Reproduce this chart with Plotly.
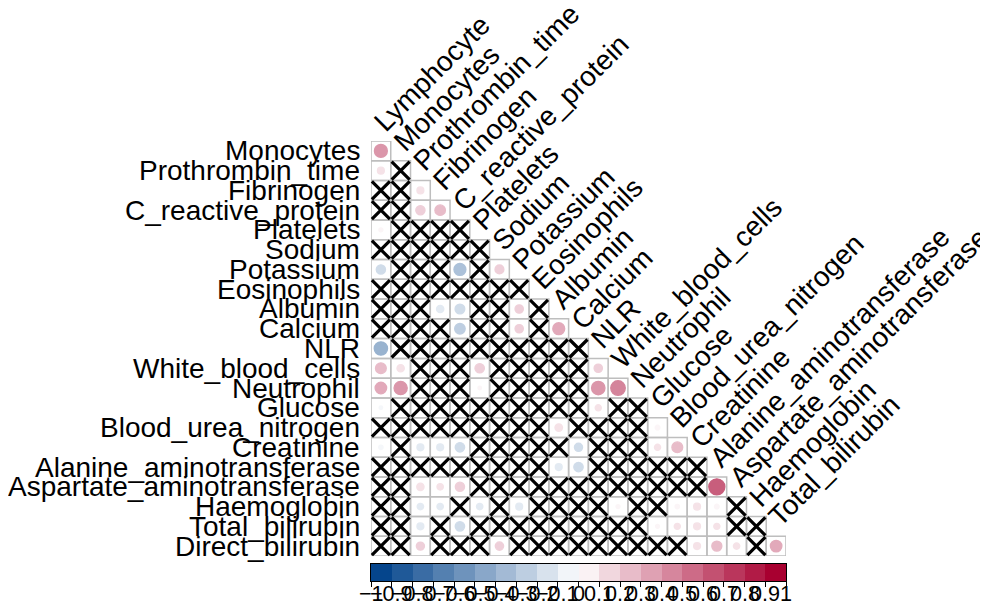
import plotly.graph_objects as go

# ---------------- data ----------------
variables = ["Lymphocyte", "Monocytes", "Prothrombin_time", "Fibrinogen",
             "C_reactive_protein", "Platelets", "Sodium", "Potassium",
             "Eosinophils", "Albumin", "Calcium", "NLR", "White_blood_cells",
             "Neutrophil", "Glucose", "Blood_urea_nitrogen", "Creatinine",
             "Alanine_aminotransferase", "Aspartate_aminotransferase",
             "Haemoglobin", "Total_bilirubin", "Direct_bilirubin"]

N = None  # non-significant (crossed) cell
corr_rows = [
    [0.53],
    [0.15, N],
    [N, N, 0.15],
    [N, N, 0.27, 0.35],
    [0.05, N, N, N, N],
    [N, N, N, N, N, N],
    [-0.27, N, N, N, -0.45, N, 0.25],
    [N, N, N, N, N, N, N, N],
    [N, N, N, -0.17, -0.3, N, N, 0.22, N],
    [N, N, N, N, -0.35, N, N, 0.22, N, 0.45],
    [-0.56, N, N, N, N, N, N, N, N, N, N],
    [0.37, 0.17, N, N, N, 0.28, N, N, N, N, N, 0.22],
    [0.42, 0.55, N, N, N, 0.04, N, N, N, N, N, 0.57, 0.67],
    [-0.04, N, N, N, N, N, N, N, N, N, N, 0.12, N, N],
    [N, N, N, N, N, N, N, N, N, 0.18, N, N, N, N, 0.07],
    [-0.06, N, -0.15, -0.15, -0.28, N, N, N, N, N, -0.21, N, N, N, 0.12, 0.37],
    [N, N, N, N, N, N, N, N, N, -0.15, -0.28, N, N, N, N, N, N],
    [N, N, 0.17, 0.13, 0.27, N, N, N, N, N, N, N, N, N, N, N, N, 0.82],
    [N, N, -0.13, -0.13, N, -0.13, N, -0.15, N, N, N, N, 0.05, N, N, 0.06, 0.15, 0.07, N],
    [N, N, -0.15, N, -0.28, N, N, N, N, N, N, N, N, N, 0.05, 0.12, 0.15, 0.12, N, N],
    [N, N, 0.21, N, N, N, 0.22, N, N, N, N, N, N, N, N, N, 0.15, 0.32, 0.13, N, 0.42],
]

colorbar_ticks = [round(-1 + 0.1 * k, 1) for k in range(21)]
blue_end = (5, 69, 140)
red_end = (168, 0, 48)

# ---------------- layout geometry ----------------
W, H = 988, 610
OFF = 8  # page body margin
L_PX, R_PX = 371, 786
T_PX, MAIN_B, CB_T, CB_B = 141, 556, 564, 581
n = len(variables) - 1
cell = (R_PX - L_PX) / n
FONT = "Liberation Sans, Arial, sans-serif"
LABEL_SIZE = 28


def ramp(k, nbins=20):
    t = k / (nbins - 1)
    if t <= 0.5:
        f = (0.5 - t) / 0.5
        c = [255 * (1 - f) + b * f for b in blue_end]
    else:
        f = (t - 0.5) / 0.5
        c = [255 * (1 - f) + r * f for r in red_end]
    return "rgb(%d,%d,%d)" % tuple(round(v) for v in c)


colors = [ramp(k) for k in range(20)]
cscale = []
for k, c in enumerate(colors):
    cscale.append([k / 20, c])
    cscale.append([(k + 1) / 20, c])

fig = go.Figure()

# grid
shapes = []
for i in range(1, n + 1):
    for j in range(1, i + 1):
        shapes.append(dict(type="rect", xref="x", yref="y",
                           x0=j - 0.5, x1=j + 0.5, y0=i - 0.5, y1=i + 0.5,
                           line=dict(color="#BEBEBE", width=1.5),
                           fillcolor="rgba(0,0,0,0)", layer="below"))

cx, cy, cv, cs = [], [], [], []
xx, xy = [], []
for i, row in enumerate(corr_rows, start=1):
    for j, v in enumerate(row, start=1):
        if v is None:
            xx.append(j)
            xy.append(i)
        else:
            cx.append(j)
            cy.append(i)
            cv.append(v)
            cs.append(0.9 * abs(v) ** 0.5 * cell)

fig.add_trace(go.Scatter(x=cx, y=cy, mode="markers", hoverinfo="skip",
                         marker=dict(size=cs, color=cv, colorscale=cscale,
                                     cmin=-1, cmax=1,
                                     line=dict(width=1.3, color=cv,
                                               colorscale=cscale,
                                               cmin=-1, cmax=1)),
                         showlegend=False, cliponaxis=False))
fig.add_trace(go.Scatter(x=xx, y=xy, mode="markers", hoverinfo="skip",
                         marker=dict(symbol="x-thin", size=18,
                                     line=dict(color="black", width=3.2)),
                         showlegend=False, cliponaxis=False))

# colour legend
mids = [round(-0.95 + 0.1 * k, 2) for k in range(20)]
fig.add_trace(go.Heatmap(x=mids, y=[0], z=[mids], colorscale=cscale,
                         zmin=-1, zmax=1, showscale=False, hoverinfo="skip",
                         xaxis="x2", yaxis="y2"))


def fmt(v):
    s = ("%g" % v)
    return s.replace("-", "\u2212")


ann = []
for i in range(1, n + 1):
    ann.append(dict(x=0.5, y=i, xref="x", yref="y", text=variables[i],
                    showarrow=False, xanchor="right", yanchor="middle",
                    xshift=-9, font=dict(size=LABEL_SIZE, color="black", family=FONT)))
for j in range(1, n + 1):
    ann.append(dict(x=j, y=j - 0.5, xref="x", yref="y", text=variables[j - 1],
                    showarrow=False, xanchor="left", yanchor="bottom",
                    textangle=-45, xshift=-16, yshift=1,
                    font=dict(size=LABEL_SIZE, color="black", family=FONT)))
for v in colorbar_ticks:
    ann.append(dict(x=v, y=0, xref="x2", yref="paper", text=fmt(v),
                    showarrow=False, xanchor="center", yanchor="top",
                    yshift=2, font=dict(size=21.6, color="black", family=FONT)))

plot_h = CB_B - T_PX
fig.update_layout(
    width=W, height=H,
    margin=dict(l=L_PX - OFF, r=W - R_PX + OFF, t=T_PX - OFF, b=H - CB_B + OFF,
                pad=0, autoexpand=False),
    paper_bgcolor="white", plot_bgcolor="white",
    shapes=shapes, annotations=ann,
    xaxis=dict(range=[0.5, n + 0.5], domain=[0, 1], visible=False,
               showgrid=False, zeroline=False, automargin=False),
    yaxis=dict(range=[n + 0.5, 0.5], domain=[(CB_B - MAIN_B) / plot_h, 1],
               visible=False, showgrid=False, zeroline=False, automargin=False),
    xaxis2=dict(range=[-1, 1], domain=[0, 1], anchor="y2",
                tickvals=colorbar_ticks, showticklabels=False,
                automargin=False,
                ticks="outside", ticklen=5, tickwidth=1, tickcolor="black",
                showline=True, mirror=True, linecolor="black", linewidth=1,
                showgrid=False, zeroline=False),
    yaxis2=dict(range=[-0.5, 0.5], domain=[0, (CB_B - CB_T) / plot_h],
                anchor="x2", showticklabels=False, ticks="", automargin=False,
                showline=True, mirror=True, linecolor="black", linewidth=1,
                showgrid=False, zeroline=False),
)

fig.write_html("out.html")
